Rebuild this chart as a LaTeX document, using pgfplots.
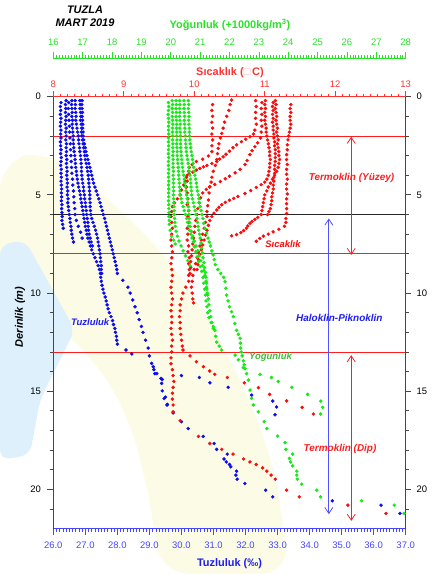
\documentclass[border=0pt]{standalone}
\usepackage{fontspec}
\setmainfont{Liberation Sans}
\usepackage{pgfplots}
\pgfplotsset{compat=1.18}
\usetikzlibrary{arrows.meta}
\definecolor{bdot}{RGB}{10,10,245}
\definecolor{rdot}{RGB}{255,10,10}
\definecolor{gdot}{RGB}{20,235,20}
\definecolor{btick}{RGB}{70,70,255}
\definecolor{rtick}{RGB}{255,50,50}
\definecolor{gtick}{RGB}{40,225,40}
\definecolor{axgray}{RGB}{70,70,70}
\definecolor{hred}{RGB}{255,30,30}
\definecolor{harrowblue}{RGB}{80,80,255}
\definecolor{labblue}{RGB}{30,30,240}
\definecolor{labgreen}{RGB}{70,185,60}
\definecolor{wmyellow}{RGB}{252,252,230}
\definecolor{wmblue}{RGB}{222,240,251}
\newcommand{\ticksize}{\fontsize{9.5}{11}\selectfont}
\newcommand{\annfont}{\fontsize{10}{12}\selectfont\bfseries\itshape}
\pgfkeys{/pgf/number format/assume math mode=true}
\pgfplotsset{
  mainframe/.style={scale only axis, width=352.4bp, height=432bp, at={(53.3bp,45.3bp)}, anchor=south west, ymin=0, ymax=22, y dir=reverse, clip=false},
  bd/.style={only marks, mark=*, mark size=1.55pt, color=bdot},
  rd/.style={only marks, mark=*, mark size=1.55pt, color=rdot},
  gd/.style={only marks, mark=*, mark size=1.55pt, color=gdot},
}
\begin{document}
\begin{tikzpicture}
\path[use as bounding box] (0,0) rectangle (433bp,574bp);
% faint watermark
\fill[wmyellow, rounded corners=30bp] (0bp,414bp) -- (50bp,424bp) -- (110bp,374bp) -- (170bp,314bp) -- (215bp,244bp) -- (250bp,174bp) -- (275bp,104bp) -- (290bp,0bp) -- (160bp,0bp) -- (150bp,74bp) -- (130bp,154bp) -- (95bp,214bp) -- (50bp,254bp) -- (0bp,264bp) -- cycle;
\fill[wmblue, rounded corners=10bp] (0bp,329bp) -- (25bp,334bp) -- (75bp,244bp) -- (40bp,174bp) -- (30bp,119bp) -- (0bp,114bp) -- cycle;

% ---------- Salinity axis (bottom, left) ----------
\begin{axis}[mainframe,
  xmin=26, xmax=37,
  axis x line*=bottom, axis y line*=left,
  xtick={26,27,...,37}, minor x tick num=9,
  ytick={0,5,10,15,20}, minor ytick={1,2,3,4,6,7,8,9,11,12,13,14,16,17,18,19,21},
  tick align=outside, major tick length=6bp, minor tick length=3.5bp,
  x axis line style={-, btick, line width=1bp},
  y axis line style={-, axgray, line width=1.1bp},
  every x tick/.append style={btick, line width=0.6bp},
  every y tick/.append style={axgray, line width=0.8bp},
  xticklabel style={btick, font=\ticksize, yshift=-4bp, /pgf/number format/.cd, fixed, fixed zerofill, precision=1},
  yticklabel style={black, font=\ticksize, xshift=-3bp},
]
\draw[hred, line width=0.9bp] (26,2) -- (37,2);
\draw[hred, line width=0.9bp] (26,8) -- (37,8);
\draw[hred, line width=0.9bp] (26,13) -- (37,13);
\draw[black!85, line width=0.9bp] (26,6) -- (37,6);
\addplot[bd] coordinates {(26.24,0.3)(26.22,0.5)(26.23,0.7)(26.22,0.9)(26.24,1.1)(26.23,1.3)(26.22,1.5)(26.24,1.7)(26.23,1.9)(26.24,2.1)(26.22,2.3)(26.23,2.5)(26.24,2.7)(26.23,2.9)(26.25,3.1)(26.24,3.3)(26.23,3.5)(26.25,3.7)(26.24,3.9)(26.25,4.1)(26.24,4.3)(26.25,4.5)(26.26,4.7)(26.25,4.9)(26.26,5.1)(26.25,5.3)(26.27,5.5)(26.26,5.7)(26.27,5.9)(26.28,6.1)(26.27,6.3)(26.29,6.5)(26.31,6.7)};
\addplot[bd] coordinates {(26.40,0.2)(26.38,0.4)(26.39,0.6)(26.38,0.8)(26.40,1.0)(26.39,1.2)(26.38,1.4)(26.40,1.6)(26.39,1.8)(26.40,2.0)(26.39,2.2)(26.41,2.4)(26.40,2.6)(26.41,2.8)(26.40,3.0)(26.42,3.2)(26.41,3.4)(26.42,3.6)(26.43,3.8)(26.42,4.0)(26.43,4.2)(26.44,4.4)(26.43,4.6)(26.45,4.8)(26.44,5.0)(26.46,5.2)(26.45,5.4)(26.47,5.6)(26.48,5.8)(26.50,6.0)(26.52,6.2)(26.53,6.4)(26.55,6.6)(26.56,6.8)(26.58,7.0)(26.60,7.2)(26.63,7.4)};
\addplot[bd] coordinates {(26.48,0.3)(26.47,0.6)(26.48,0.9)(26.49,1.2)(26.50,1.5)(26.51,1.8)(26.52,2.1)(26.53,2.4)(26.54,2.7)(26.55,3.0)(26.56,3.3)(26.57,3.6)(26.58,3.9)(26.60,4.2)(26.61,4.5)(26.63,4.8)(26.64,5.1)(26.65,5.4)(26.67,5.7)(26.68,6.0)(26.72,6.3)(26.78,6.6)(26.85,6.9)(26.90,7.2)};
\addplot[bd] coordinates {(26.58,0.2)(26.57,0.4)(26.58,0.6)(26.59,0.8)(26.58,1.0)(26.60,1.2)(26.59,1.4)(26.60,1.6)(26.61,1.8)(26.62,2.0)(26.62,2.2)(26.63,2.4)(26.64,2.6)(26.65,2.8)(26.67,3.0)(26.68,3.2)(26.69,3.4)(26.70,3.6)(26.72,3.8)(26.73,4.0)(26.75,4.2)(26.77,4.4)(26.79,4.6)(26.82,4.8)(26.84,5.0)(26.86,5.2)(26.88,5.4)(26.90,5.6)(26.92,5.8)(26.94,6.0)(26.96,6.2)(26.98,6.4)(27.00,6.6)(27.03,6.8)(27.05,7.0)(27.08,7.2)(27.12,7.4)(27.16,7.6)(27.20,7.8)(27.25,8.0)(27.30,8.2)(27.35,8.4)(27.40,8.6)(27.44,8.8)(27.47,9.0)(27.48,9.2)(27.50,9.4)(27.52,9.6)(27.55,9.8)(27.58,10.0)(27.62,10.2)(27.65,10.4)(27.68,10.6)(27.71,10.8)(27.75,11.0)(27.80,11.2)(27.85,11.4)(27.88,11.6)(27.92,11.8)(27.94,12.0)(27.97,12.2)(27.98,12.4)(28.00,12.6)(28.27,12.9)(28.45,13.1)(29.07,13.58)(29.12,13.75)(29.17,14.1)(29.36,14.35)(29.38,14.6)(29.40,14.98)(29.46,15.37)(29.56,15.67)(29.74,16.1)(30.00,16.55)(30.21,16.9)(30.68,17.3)(31.02,17.66)(31.10,17.96)(31.43,18.2)(31.33,18.45)(31.40,18.6)(31.50,18.73)(31.54,18.85)(31.72,19.07)(31.70,19.27)(31.74,19.48)(31.98,19.7)(32.63,20.04)(32.85,20.38)(34.71,20.58)(36.23,20.8)(36.82,21.22)};
\addplot[bd] coordinates {(26.68,0.2)(26.69,0.4)(26.68,0.6)(26.70,0.8)(26.71,1.0)(26.70,1.2)(26.72,1.4)(26.74,1.6)(26.76,1.8)(26.78,2.0)(26.79,2.2)(26.80,2.4)(26.82,2.6)(26.83,2.8)(26.85,3.0)(26.86,3.2)(26.87,3.4)(26.88,3.6)(26.88,3.8)(26.89,4.0)(26.90,4.2)(26.92,4.4)(26.94,4.6)(26.95,4.8)(26.97,5.0)(26.98,5.2)(27.00,5.4)(27.01,5.6)(27.03,5.8)(27.04,6.0)(27.06,6.2)(27.08,6.4)(27.09,6.6)(27.10,6.8)(27.12,7.0)(27.15,7.2)(27.18,7.4)(27.22,7.6)};
\addplot[bd] coordinates {(26.83,0.2)(26.84,0.4)(26.83,0.6)(26.85,0.8)(26.86,1.0)(26.85,1.2)(26.87,1.4)(26.88,1.6)(26.88,1.8)(26.89,2.0)(26.91,2.2)(26.93,2.4)(26.95,2.6)(26.97,2.8)(26.98,3.0)(27.00,3.2)(27.03,3.4)(27.05,3.6)(27.07,3.8)(27.09,4.0)(27.10,4.2)(27.11,4.4)(27.12,4.6)(27.13,4.8)(27.14,5.0)(27.14,5.2)(27.15,5.4)(27.15,5.6)(27.16,5.8)(27.17,6.0)(27.20,6.2)(27.24,6.4)(27.28,6.6)(27.32,6.8)(27.35,7.0)(27.38,7.2)(27.40,7.4)(27.42,7.6)(27.44,7.8)(27.46,8.0)(27.47,8.2)(27.48,8.4)(27.50,8.6)(27.50,8.8)(27.51,9.0)};
\addplot[bd] coordinates {(26.90,0.2)(26.89,0.4)(26.90,0.6)(26.91,0.8)(26.90,1.0)(26.91,1.2)(26.92,1.4)(26.92,1.6)(26.93,1.8)(26.93,2.0)(26.95,2.2)(26.97,2.4)(27.00,2.6)(27.02,2.8)(27.05,3.0)(27.08,3.2)(27.11,3.4)(27.14,3.6)(27.17,3.8)(27.20,4.0)(27.23,4.2)(27.26,4.4)(27.30,4.6)(27.34,4.8)(27.38,5.0)(27.42,5.2)(27.46,5.4)(27.49,5.6)(27.53,5.8)(27.56,6.0)(27.60,6.2)(27.63,6.4)(27.66,6.6)(27.69,6.8)(27.72,7.0)(27.75,7.2)(27.78,7.4)(27.81,7.6)(27.84,7.8)(27.87,8.0)(27.90,8.2)(27.93,8.4)(27.96,8.6)(27.98,8.8)(28.00,9.0)(28.17,9.35)(28.33,9.7)(28.40,10.0)(28.48,10.35)(28.55,10.7)(28.62,11.0)(28.68,11.35)(28.75,11.7)(28.80,12.0)(28.88,12.4)(28.96,12.8)(29.00,13.2)(29.23,14.1)(29.40,14.4)(29.50,15.3)(29.55,15.7)};
\addplot[bd] coordinates {(29.14,13.9)(30.00,14.2)(30.56,14.3)(30.89,14.57)(31.46,14.8)(32.19,15.2)(32.85,15.5)(32.97,15.8)(32.92,16.2)};
\end{axis}

% ---------- Temperature axis (top, right) ----------
\begin{axis}[mainframe,
  xmin=8, xmax=13,
  axis x line*=top, axis y line*=right,
  xtick={8,9,...,13}, minor x tick num=9,
  ytick={0,5,10,15,20}, minor ytick={1,2,3,4,6,7,8,9,11,12,13,14,16,17,18,19,21},
  tick align=outside, major tick length=5.5bp, minor tick length=3bp,
  x axis line style={-, rtick, line width=1bp},
  y axis line style={-, axgray, line width=1.1bp},
  every x tick/.append style={rtick, line width=0.6bp},
  every y tick/.append style={axgray, line width=0.8bp},
  xticklabel style={rtick, font=\ticksize},
  yticklabel style={black, font=\ticksize, xshift=2bp},
]
\addplot[rd] coordinates {(11.37,0.4)(11.36,0.6)(11.37,0.8)(11.36,1.0)(11.36,1.2)(11.37,1.4)(11.36,1.6)(11.35,1.8)(11.34,2.0)(11.33,2.2)(11.32,2.45)(11.32,2.7)(11.31,2.95)(11.31,3.2)(11.32,3.45)(11.31,3.7)(11.31,3.95)(11.32,4.2)(11.31,4.45)(11.31,4.7)(11.32,4.95)(11.31,5.2)(11.31,5.45)(11.31,5.7)(11.31,5.95)(11.30,6.2)(11.30,6.4)(11.28,6.6)(11.20,6.75)(11.12,6.88)(11.05,7.0)(10.98,7.1)(10.93,7.22)(10.88,7.36)};
\addplot[rd] coordinates {(11.15,0.2)(11.16,0.4)(11.15,0.6)(11.16,0.8)(11.17,1.0)(11.16,1.2)(11.17,1.4)(11.18,1.6)(11.17,1.8)(11.18,2.0)(11.19,2.2)(11.18,2.4)(11.19,2.6)(11.20,2.8)(11.20,3.0)(11.21,3.2)(11.20,3.4)(11.19,3.6)(11.17,3.8)(11.14,4.0)(11.11,4.2)(11.08,4.4)(11.05,4.6)(11.03,4.8)(11.00,5.0)(10.99,5.2)(10.98,5.4)(10.97,5.6)(10.96,5.8)(10.95,6.0)(10.90,6.15)(10.86,6.25)(10.82,6.35)(10.79,6.45)(10.76,6.58)(10.74,6.7)(10.70,6.82)(10.66,6.92)(10.60,7.02)(10.53,7.08)};
\addplot[rd] coordinates {(11.12,0.3)(11.11,0.5)(11.12,0.7)(11.11,0.9)(11.12,1.1)(11.11,1.3)(11.12,1.5)(11.12,1.7)(11.13,1.9)(11.13,2.1)(11.14,2.3)(11.14,2.5)(11.15,2.7)(11.15,2.9)(11.15,3.1)(11.15,3.3)(11.14,3.5)(11.14,3.7)(11.14,3.9)(11.13,4.1)(11.13,4.3)(11.12,4.5)(11.12,4.7)(11.11,4.9)(11.10,5.1)(11.10,5.3)(11.09,5.5)(11.08,5.7)(11.06,5.85)(11.04,6.0)};
\addplot[rd] coordinates {(11.01,0.2)(11.00,0.4)(11.01,0.6)(11.00,0.8)(11.01,1.0)(11.00,1.2)(11.01,1.4)(11.02,1.6)(11.02,1.8)(11.03,2.0)(11.04,2.2)(11.05,2.4)(11.06,2.6)(11.07,2.8)(11.07,3.0)(11.08,3.2)(11.07,3.4)(11.07,3.6)(11.06,3.8)(11.05,4.0)(11.03,4.2)(11.00,4.35)(10.95,4.48)(10.88,4.62)(10.80,4.78)(10.72,4.93)(10.62,5.08)(10.56,5.18)(10.50,5.27)(10.44,5.38)(10.39,5.5)(10.35,5.63)(10.32,5.77)(10.28,5.93)(10.25,6.1)(10.22,6.3)(10.20,6.55)(10.18,6.8)(10.16,7.05)(10.14,7.3)(10.12,7.55)(10.10,7.8)(10.08,8.05)(10.06,8.3)(10.05,8.55)(10.04,8.8)};
\addplot[rd] coordinates {(10.96,0.3)(10.95,0.6)(10.96,0.9)(10.95,1.2)(10.96,1.5)(10.95,1.8)(10.94,2.1)(10.90,2.35)(10.86,2.55)(10.82,2.75)(10.79,2.95)(10.75,3.25)(10.72,3.45)(10.65,3.7)(10.58,3.88)(10.50,4.05)(10.44,4.18)(10.37,4.32)(10.29,4.47)(10.22,4.58)(10.17,4.72)(10.12,4.9)(10.09,5.15)(10.07,5.4)(10.05,5.7)(10.04,6.0)(10.02,6.3)(10.01,6.6)(10.00,6.9)(9.99,7.2)(9.98,7.5)(9.97,7.8)(9.96,8.1)(9.95,8.4)(9.95,8.7)(9.94,9.0)};
\addplot[rd] coordinates {(10.87,0.2)(10.88,0.5)(10.87,0.8)(10.87,1.1)(10.88,1.4)(10.86,1.7)(10.84,1.9)(10.79,2.04)(10.73,2.17)(10.67,2.29)(10.60,2.45)(10.55,2.6)(10.50,2.78)(10.45,2.93)(10.41,3.06)(10.36,3.18)(10.32,3.3)(10.25,3.4)(10.18,3.5)(10.13,3.57)(10.08,3.65)(10.03,3.74)(9.98,3.84)(9.93,3.95)(9.89,4.1)(9.87,4.3)(9.85,4.5)(9.82,4.75)(9.80,5.0)(9.76,5.2)(9.72,5.4)(9.69,5.6)(9.68,5.85)(9.67,6.1)(9.68,6.4)(9.69,6.7)(9.68,7.0)(9.67,7.3)(9.68,7.6)(9.69,7.9)(9.68,8.2)(9.67,8.5)(9.68,8.8)(9.69,9.1)(9.68,9.4)(9.67,9.7)(9.68,10.0)(9.69,10.3)(9.68,10.6)(9.67,10.9)(9.68,11.2)(9.68,11.5)(9.67,11.8)(9.68,12.1)(9.69,12.4)(9.68,12.7)(9.68,13.0)(9.67,13.3)(9.67,13.6)(9.69,13.9)(9.70,14.2)(9.71,14.5)(9.70,14.8)(9.69,15.1)(9.69,15.4)(9.70,15.7)(9.70,16.05)(9.80,16.5)(10.06,17.3)(10.22,17.66)(10.39,17.96)(10.55,18.2)(10.70,18.45)(10.79,18.6)(10.88,18.73)(10.97,18.9)(11.03,19.07)(11.09,19.27)(11.15,19.48)(11.31,20.04)(11.49,20.38)(12.18,20.8)(12.72,21.22)};
\addplot[rd] coordinates {(10.53,0.17)(10.51,0.4)(10.49,0.7)(10.46,1.0)(10.43,1.3)(10.41,1.6)(10.39,1.87)(10.37,2.1)(10.35,2.4)(10.34,2.63)(10.33,2.9)(10.32,3.2)(10.30,3.5)(10.27,3.8)(10.25,4.1)(10.24,4.35)(10.22,4.6)(10.21,4.9)(10.20,5.26)(10.19,5.55)(10.18,5.85)(10.18,6.1)(10.16,6.4)(10.14,6.7)(10.12,7.0)(10.10,7.3)(10.08,7.6)(10.06,7.9)(10.04,8.2)(10.02,8.5)(10.00,8.8)(9.98,9.1)(9.97,9.4)(9.96,9.7)(9.97,10.0)(9.98,10.3)(9.99,10.5)};
\addplot[rd] coordinates {(10.26,0.4)(10.25,0.7)(10.26,1.0)(10.25,1.3)(10.26,1.6)(10.25,1.9)(10.26,2.2)(10.25,2.5)(10.25,2.8)(10.20,3.02)(10.12,3.18)(10.03,3.3)(9.97,3.45)(9.93,3.6)(9.92,3.8)(9.90,4.0)(9.90,4.3)(9.89,4.6)(9.90,4.9)(9.91,5.2)(9.90,5.5)(9.92,5.8)(9.91,6.1)(9.92,6.4)(9.90,6.7)(9.91,7.0)(9.90,7.3)(9.92,7.6)(9.91,7.9)(9.93,8.2)(9.92,8.5)(9.93,8.8)(9.92,9.1)(9.92,9.4)(9.88,9.7)(9.84,10.0)(9.82,10.3)(9.80,10.6)(9.80,10.9)(9.79,11.2)(9.80,11.5)(9.80,11.8)(9.81,12.1)(9.82,12.4)(9.83,12.7)(9.84,12.9)(9.94,13.2)(10.03,13.5)(10.13,13.75)(10.22,13.97)(10.29,14.14)(10.47,14.3)(10.71,14.57)(10.91,14.82)(11.07,15.16)(11.31,15.49)(11.53,15.82)(11.69,16.16)};
\end{axis}

% ---------- Density data ----------
\begin{axis}[mainframe, xmin=16, xmax=28, hide axis]
\addplot[gd] coordinates {(19.92,0.3)(19.93,0.5)(19.92,0.7)(19.91,0.9)(19.92,1.1)(19.93,1.3)(19.92,1.5)(19.92,1.7)(19.93,1.9)(19.92,2.1)(19.92,2.3)(19.93,2.5)(19.92,2.7)(19.92,2.9)(19.93,3.1)(19.92,3.3)(19.92,3.5)(19.93,3.7)(19.92,3.9)(19.92,4.1)(19.93,4.3)(19.92,4.5)(19.93,4.7)(19.92,4.9)(19.93,5.1)(19.92,5.3)(19.93,5.5)(19.93,5.7)(19.94,5.9)(19.94,6.1)(19.95,6.3)(19.95,6.5)(19.98,6.8)(20.03,7.1)(20.10,7.3)(20.15,7.5)};
\addplot[gd] coordinates {(20.05,0.2)(20.06,0.4)(20.05,0.6)(20.06,0.8)(20.05,1.0)(20.06,1.2)(20.07,1.4)(20.06,1.6)(20.06,1.8)(20.07,2.0)(20.06,2.2)(20.07,2.4)(20.07,2.6)(20.08,2.8)(20.07,3.0)(20.08,3.2)(20.08,3.4)(20.08,3.6)(20.09,3.8)(20.08,4.0)(20.09,4.2)(20.09,4.4)(20.09,4.6)(20.10,4.8)(20.09,5.0)(20.10,5.2)(20.10,5.4)(20.11,5.6)(20.12,5.8)(20.12,6.0)(20.13,6.2)(20.14,6.4)(20.15,6.6)(20.18,6.85)(20.22,7.1)(20.28,7.35)(20.35,7.6)(20.42,7.85)(20.50,8.1)(20.58,8.35)(20.65,8.6)};
\addplot[gd] coordinates {(20.18,0.2)(20.19,0.4)(20.18,0.6)(20.19,0.8)(20.18,1.0)(20.19,1.2)(20.20,1.4)(20.19,1.6)(20.20,1.8)(20.20,2.0)(20.21,2.2)(20.20,2.4)(20.21,2.6)(20.22,2.8)(20.22,3.0)(20.23,3.2)(20.24,3.4)(20.25,3.6)(20.26,3.8)(20.27,4.0)(20.28,4.2)(20.29,4.4)(20.30,4.6)(20.31,4.8)(20.32,5.0)(20.35,5.2)(20.38,5.4)(20.42,5.6)(20.46,5.8)(20.50,6.0)(20.54,6.2)(20.57,6.4)(20.60,6.6)(20.64,6.8)(20.68,7.0)(20.72,7.2)(20.76,7.4)(20.80,7.65)(20.85,7.9)(20.90,8.15)(20.95,8.4)(21.00,8.65)(21.05,8.9)(21.10,9.2)(21.12,9.5)(21.15,9.8)(21.18,10.1)(21.20,10.4)(21.23,10.7)(21.26,11.0)(21.30,11.25)(21.38,11.5)(21.45,11.7)(21.50,11.9)(21.53,12.2)(21.56,12.5)(21.65,12.7)(21.73,12.9)(22.19,13.16)(22.30,13.4)(22.47,13.8)(22.58,14.1)(22.64,14.43)(22.70,14.94)(22.75,15.36)(22.81,15.7)(22.98,16.05)(23.18,16.55)(23.27,16.9)(23.64,17.28)(23.89,17.62)(23.92,17.96)(24.15,18.2)(24.04,18.42)(24.08,18.6)(24.15,18.8)(24.29,19.07)(24.29,19.27)(24.31,19.48)(24.46,19.73)(24.97,20.04)(25.10,20.38)(26.50,20.58)(27.61,20.8)(27.94,21.22)};
\addplot[gd] coordinates {(20.30,0.2)(20.31,0.4)(20.30,0.6)(20.31,0.8)(20.30,1.0)(20.31,1.2)(20.32,1.4)(20.31,1.6)(20.32,1.8)(20.32,2.0)(20.33,2.2)(20.33,2.4)(20.34,2.6)(20.35,2.8)(20.36,3.0)(20.37,3.2)(20.38,3.4)(20.40,3.6)(20.42,3.8)(20.44,4.0)(20.46,4.2)(20.48,4.4)(20.50,4.6)(20.52,4.8)(20.54,5.0)(20.56,5.2)(20.58,5.4)(20.60,5.6)(20.61,5.8)(20.62,6.0)(20.63,6.2)(20.64,6.4)(20.66,6.6)(20.70,6.85)(20.75,7.1)(20.80,7.35)(20.86,7.6)(20.92,7.85)(20.97,8.1)(21.02,8.35)(21.08,8.6)(21.12,8.85)(21.16,9.1)(21.20,9.4)(21.22,9.7)(21.25,10.0)(21.28,10.3)(21.30,10.6)(21.33,10.9)(21.36,11.2)(21.40,11.5)(21.45,11.8)};
\addplot[gd] coordinates {(20.45,0.2)(20.46,0.4)(20.45,0.6)(20.46,0.8)(20.47,1.0)(20.46,1.2)(20.47,1.4)(20.48,1.6)(20.48,1.8)(20.49,2.0)(20.50,2.2)(20.51,2.4)(20.52,2.6)(20.53,2.8)(20.55,3.0)(20.57,3.2)(20.59,3.4)(20.61,3.6)(20.63,3.8)(20.65,4.0)(20.67,4.2)(20.68,4.4)(20.69,4.6)(20.70,4.8)(20.71,5.0)(20.74,5.2)(20.77,5.4)(20.80,5.6)(20.83,5.8)(20.86,6.0)(20.89,6.2)(20.91,6.4)(20.93,6.6)(20.95,6.8)(20.98,7.0)(21.00,7.2)(21.03,7.45)(21.05,7.7)(21.08,7.95)(21.10,8.2)(21.13,8.45)(21.15,8.7)(21.18,8.95)(21.20,9.2)(21.22,9.5)(21.23,9.8)(21.25,10.1)};
\addplot[gd] coordinates {(20.60,0.2)(20.61,0.4)(20.60,0.6)(20.61,0.8)(20.62,1.0)(20.61,1.2)(20.62,1.4)(20.63,1.6)(20.63,1.8)(20.64,2.0)(20.65,2.2)(20.66,2.4)(20.68,2.6)(20.70,2.8)(20.72,3.0)(20.74,3.2)(20.76,3.4)(20.78,3.6)(20.80,3.8)(20.82,4.0)(20.85,4.2)(20.87,4.4)(20.89,4.6)(20.91,4.8)(20.94,5.0)(20.96,5.2)(20.98,5.4)(21.00,5.6)(21.03,5.8)(21.06,6.0)(21.09,6.2)(21.12,6.45)(21.17,6.7)(21.22,6.95)(21.27,7.2)(21.31,7.4)(21.35,7.6)(21.40,7.85)(21.44,8.06)(21.48,8.3)(21.52,8.55)(21.60,8.8)(21.70,9.0)(21.80,9.2)(21.85,9.42)(21.88,9.75)(21.90,10.1)(21.95,10.4)(22.00,10.7)(22.07,10.95)(22.13,11.2)(22.18,11.55)(22.24,11.9)(22.30,12.1)(22.36,12.3)(22.37,12.55)(22.38,12.8)(22.40,13.0)(22.43,13.2)(22.47,13.45)(22.50,13.65)(22.53,13.85)(23.04,14.14)(23.43,14.3)(23.66,14.5)(24.12,14.8)(24.66,15.16)(25.11,15.5)(25.17,15.82)(25.10,16.16)};
\end{axis}

% ---------- Density scale (top) ----------
\begin{axis}[scale only axis, width=352.4bp, height=10bp, at={(53.3bp,505.7bp)}, anchor=south west,
  xmin=16, xmax=28, ymin=0, ymax=1,
  axis x line*=top, axis y line=none, ytick=\empty,
  xtick={16,17,...,28}, minor x tick num=9,
  tick align=outside, major tick length=6.5bp, minor tick length=3bp,
  x axis line style={-, gtick, line width=1bp},
  every x tick/.append style={gtick, line width=0.6bp},
  xticklabel style={gtick, font=\ticksize, yshift=3bp},
]
\end{axis}

% ---------- Overlay: arrows and annotations ----------
\begin{axis}[mainframe, xmin=26, xmax=37, hide axis]
\draw[hred, line width=0.8bp, {Straight Barb[length=6bp,width=8bp]}-{Straight Barb[length=6bp,width=8bp]}] (35.3,2.04) -- (35.3,8.06);
\draw[harrowblue, line width=0.8bp, {Straight Barb[length=6bp,width=8bp]}-{Straight Barb[length=6bp,width=8bp]}] (34.6,6.2) -- (34.6,21.26);
\draw[hred, line width=0.8bp, {Straight Barb[length=6bp,width=8bp]}-{Straight Barb[length=6bp,width=8bp]}] (35.3,13.16) -- (35.3,21.6);
\node[font=\annfont, text=hred] at (35.31,4.14) {Termoklin (Yüzey)};
\node[font=\annfont, text=labblue] at (34.93,11.29) {Haloklin-Piknoklin};
\node[font=\annfont, text=hred] at (34.95,17.96) {Termoklin (Dip)};
\node[font=\fontsize{9.5}{11}\selectfont\bfseries\itshape, text=rdot] at (33.17,7.5) {Sıcaklık};
\node[font=\fontsize{9.5}{11}\selectfont\bfseries\itshape, text=labblue] at (27.15,11.5) {Tuzluluk};
\node[font=\fontsize{9.5}{11}\selectfont\bfseries\itshape, text=labgreen] at (32.78,13.24) {Yoğunluk};
\end{axis}

% ---------- Titles ----------
\node[font=\fontsize{11}{13}\selectfont\bfseries\itshape, align=center] at (85bp,557.5bp) {TUZLA\\MART 2019};
\node[font=\fontsize{11}{13}\selectfont\bfseries, text=gtick] at (230bp,549bp) {Yoğunluk (+1000kg/m\textsuperscript{3})};
\node[font=\fontsize{11}{13}\selectfont\bfseries, text=rtick] at (230bp,501bp) {Sıcaklık ({\color{red!30}□}\,C)};
\node[font=\fontsize{11}{13}\selectfont\bfseries, text=labblue] at (229.5bp,10.7bp) {Tuzluluk (‰)};
\node[font=\fontsize{11}{13}\selectfont\bfseries\itshape, rotate=90] at (20bp,257bp) {Derinlik (m)};
\end{tikzpicture}
\end{document}
